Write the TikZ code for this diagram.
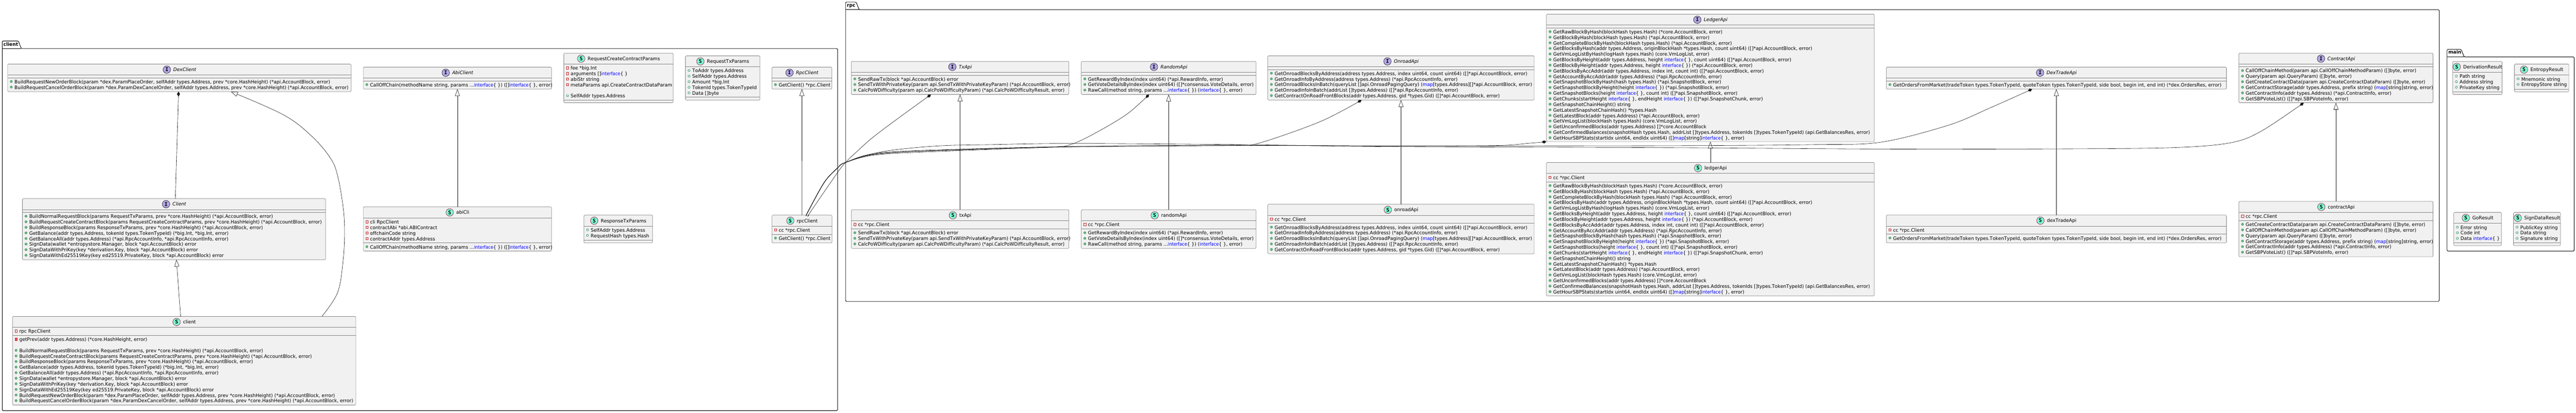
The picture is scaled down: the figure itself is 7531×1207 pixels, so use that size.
\documentclass[tikz,border=0pt]{standalone}
\usepackage{fontspec}
\usetikzlibrary{arrows.meta}
\setmainfont{DejaVu Sans}[Ligatures=CommonOff,Kerning=Off,FakeStretch=0.975]
\newfontfamily\iconfont{DejaVu Sans Mono}[Ligatures=CommonOff]
\definecolor{boxfill}{HTML}{F1F1F1}
\definecolor{boxline}{HTML}{848484}
\definecolor{ink}{HTML}{181818}
\definecolor{kwblue}{HTML}{0000FF}
\definecolor{pubstroke}{HTML}{038048}
\definecolor{pubfill}{HTML}{84BE84}
\definecolor{privstroke}{HTML}{C82930}
\definecolor{privfill}{HTML}{F24D5C}
\definecolor{structfill}{HTML}{7FFFD4}
\definecolor{structline}{HTML}{A80036}
\definecolor{ifacefill}{HTML}{B4A7E5}
\newcommand\kw[1]{\textcolor{kwblue}{#1}}
\newcommand\kwib{\scalebox{0.92}[1]{\kw{interface}}\{ \}}
\newcommand\kwm{\kw{map}}
\newcommand\sqz[2]{\scalebox{#1}[1]{#2}}
\newcounter{rw}
\tikzset{
  classbox/.style={draw=boxline,line width=1pt,fill=boxfill,rounded corners=2.5pt,inner sep=0pt,outer sep=0pt},
  divline/.style={draw=boxline,line width=1pt},
  rowtxt/.style={anchor=base west,inner sep=0pt,outer sep=0pt,font=\fontsize{14}{16}\selectfont,text=black},
  titlei/.style={anchor=base,inner sep=0pt,outer sep=0pt,font=\fontsize{14}{16}\selectfont\itshape},
  titles/.style={anchor=base,inner sep=0pt,outer sep=0pt,font=\fontsize{14}{16}\selectfont},
  iconI/.style={circle,draw=ink,line width=0.9pt,fill=ifacefill,minimum size=22pt,inner sep=0pt,font=\fontsize{15}{16}\selectfont\iconfont\bfseries},
  iconS/.style={circle,draw=structline,line width=0.9pt,fill=structfill,minimum size=22pt,inner sep=0pt,font=\fontsize{15}{16}\selectfont\iconfont\bfseries},
  pubm/.style={draw=pubstroke,fill=pubfill,line width=0.8pt},
  pubf/.style={draw=pubstroke,line width=0.8pt},
  privf/.style={draw=privstroke,line width=0.8pt},
  privm/.style={draw=privstroke,fill=privfill,line width=0.8pt},
  pkg/.style={draw=black,line width=1.4pt,rounded corners=2.5pt},
  pkgtxt/.style={anchor=base west,inner sep=0pt,outer sep=0pt,font=\fontsize{14}{16}\selectfont\bfseries},
  conn/.style={draw=ink,line width=0.9pt},
  genline/.style={conn,-{Triangle[fill=white,length=20pt,width=14pt]}},
  compline/.style={conn,-{Diamond[length=14pt,width=9pt,fill=ink]}},
}
% name, x1, y1, x2, y2, kind (I/S), divider 1, divider 2
\newcommand\umlbox[8]{%
  \pgfmathsetmacro\bx{(#2+#4)/2}\pgfmathsetmacro\by{(#3+#5)/2}%
  \pgfmathsetmacro\bw{#4-#2}\pgfmathsetmacro\bh{#5-#3}%
  \pgfmathsetmacro\ty{#3+21.4}\pgfmathsetmacro\iy{#3+16.2}\pgfmathsetmacro\tx{\bx+15.5}%
  \node[classbox,minimum width=\bw pt,minimum height=\bh pt] (#1) at (\bx,\by) {};
  \ifx#6I\node[titlei] (#1-title) at (\tx,\ty) {#1};\else\node[titles] (#1-title) at (\tx,\ty) {#1};\fi
  \coordinate (#1-ic) at (#1-title.west |- 0,\iy);
  \node[icon#6,xshift=-19pt] (#1-icon) at (#1-ic) {#6};
  \draw[divline] (#1.west |- 0,#7) -- (#1.east |- 0,#7);
  \draw[divline] (#1.west |- 0,#8) -- (#1.east |- 0,#8);
  \gdef\rowbase{#2}%
}
% start of a compartment: y of the divider above it
\newcommand\rowsat[1]{\pgfmathsetmacro\rowy{#1+17}}
\newcommand\nextrow{\pgfmathsetmacro\rowy{\rowy+16.33}}
\newcommand\rowtext[1]{\stepcounter{rw}\pgfmathsetmacro\rtx{\rowbase+20}%
  \node[rowtxt] (row\arabic{rw}) at (\rtx,\rowy) {#1};}
\newcommand\rowmark{\pgfmathsetmacro\rmx{\rowbase+10.5}\pgfmathsetmacro\rmy{\rowy-6}}
\newcommand\MM[1]{\rowmark\draw[pubm] (\rmx,\rmy) circle (3.2pt);\rowtext{#1}\nextrow}
\newcommand\FF[1]{\rowmark\draw[pubf] (\rmx,\rmy) circle (3.2pt);\rowtext{#1}\nextrow}
\newcommand\PF[1]{\rowmark\draw[privf] (\rmx-3.2,\rmy-3.4) rectangle (\rmx+3.2,\rmy+3.4);\rowtext{#1}\nextrow}
\newcommand\PM[1]{\rowmark\draw[privm] (\rmx-3.2,\rmy-3.4) rectangle (\rmx+3.2,\rmy+3.4);\rowtext{#1}\nextrow}
\newcommand\BL{\nextrow}
\begin{document}
\begin{tikzpicture}[x=1pt,y=-1pt]
\useasboundingbox (0,0) rectangle (7531,1207);
% packages
\draw[pkg] (6.5,142) -- (6.5,120) -- (54,120) -- (62,142) -- (2448.8,142) -- (2448.8,1201) -- (6.5,1201) -- cycle;
\draw[pkg] (6.5,142) -- (62,142);
\node[pkgtxt] (pkgclient) at (10,135) {client};
\draw[pkg] (2472,28.5) -- (2472,6) -- (2503,6) -- (2511.7,28.5) -- (7131,28.5) -- (7131,881.5) -- (2472,881.5) -- cycle;
\draw[pkg] (2472,28.5) -- (2511.7,28.5);
\node[pkgtxt] (pkgrpc) at (2475.9,21) {rpc};
\draw[pkg] (7154,166.5) -- (7154,144.3) -- (7195,144.3) -- (7204,166.5) -- (7525.6,166.5) -- (7525.6,734.3) -- (7154,734.3) -- cycle;
\draw[pkg] (7154,166.5) -- (7204,166.5);
\node[pkgtxt] (pkgmain) at (7157.8,158) {main};

% client package
\umlbox{DexClient}{22.4}{187.4}{1026.6}{268.1}{I}{219.5}{227.4}
\rowsat{227.4}
\MM{BuildRequestNewOrderBlock(param *dex.ParamPlaceOrder, selfAddr types.Address, prev *core.HashHeight) (*api.AccountBlock, error)}
\MM{BuildRequestCancelOrderBlock(param *dex.ParamDexCancelOrder, selfAddr types.Address, prev *core.HashHeight) (*api.AccountBlock, error)}

\umlbox{Client}{65.5}{581}{952}{759.5}{I}{613.5}{621.3}
\rowsat{621.3}
\MM{BuildNormalRequestBlock(params RequestTxParams, prev *core.HashHeight) (*api.AccountBlock, error)}
\MM{BuildRequestCreateContractBlock(params RequestCreateContractParams, prev *core.HashHeight) (*api.AccountBlock, error)}
\MM{BuildResponseBlock(params ResponseTxParams, prev *core.HashHeight) (*api.AccountBlock, error)}
\MM{GetBalance(addr types.Address, tokenId types.TokenTypeId) (*big.Int, *big.Int, error)}
\MM{GetBalanceAll(addr types.Address) (*api.RpcAccountInfo, *api.RpcAccountInfo, error)}
\MM{SignData(wallet *entropystore.Manager, block *api.AccountBlock) error}
\MM{SignDataWithPriKey(key *derivation.Key, block *api.AccountBlock) error}
\MM{SignDataWithEd25519Key(key ed25519.PrivateKey, block *api.AccountBlock) error}

\umlbox{client}{36.5}{925.6}{1040.6}{1184.6}{S}{957.3}{981}
\rowsat{957.3}
\PF{rpc RpcClient}
\rowsat{981}
\PM{getPrev(addr types.Address) (*core.HashHeight, error)}
\BL
\MM{BuildNormalRequestBlock(params RequestTxParams, prev *core.HashHeight) (*api.AccountBlock, error)}
\MM{BuildRequestCreateContractBlock(params RequestCreateContractParams, prev *core.HashHeight) (*api.AccountBlock, error)}
\MM{BuildResponseBlock(params ResponseTxParams, prev *core.HashHeight) (*api.AccountBlock, error)}
\MM{GetBalance(addr types.Address, tokenId types.TokenTypeId) (*big.Int, *big.Int, error)}
\MM{GetBalanceAll(addr types.Address) (*api.RpcAccountInfo, *api.RpcAccountInfo, error)}
\MM{SignData(wallet *entropystore.Manager, block *api.AccountBlock) error}
\MM{SignDataWithPriKey(key *derivation.Key, block *api.AccountBlock) error}
\MM{SignDataWithEd25519Key(key ed25519.PrivateKey, block *api.AccountBlock) error}
\MM{BuildRequestNewOrderBlock(param *dex.ParamPlaceOrder, selfAddr types.Address, prev *core.HashHeight) (*api.AccountBlock, error)}
\MM{BuildRequestCancelOrderBlock(param *dex.ParamDexCancelOrder, selfAddr types.Address, prev *core.HashHeight) (*api.AccountBlock, error)}

\umlbox{AbiClient}{1062}{196.5}{1612.5}{260.6}{I}{228.5}{236.5}
\rowsat{236.5}
\MM{CallOffChain(methodName string, params ...\kwib) ([]\kwib, error)}

\umlbox{abiCli}{1062}{605}{1612.5}{734.3}{S}{637.5}{710}
\rowsat{637.5}
\PF{cli RpcClient}
\PF{contractAbi *abi.ABIContract}
\PF{offchainCode string}
\PF{contractAddr types.Address}
\rowsat{710.5}
\MM{CallOffChain(methodName string, params ...\kwib) ([]\kwib, error)}

\umlbox{RequestCreateContractParams}{1648.4}{155.4}{1968}{300.5}{S}{187.4}{292.2}
\rowsat{187.4}
\PF{fee *big.Int}
\PF{arguments []\kwib}
\PF{abiStr string}
\PF{metaParams api.CreateContractDataParam}
\BL
\FF{SelfAddr types.Address}

\umlbox{RequestTxParams}{2003.9}{163.3}{2221.6}{292.6}{S}{195.3}{284.3}
\rowsat{195.3}
\FF{ToAddr types.Address}
\FF{SelfAddr types.Address}
\FF{Amount *big.Int}
\FF{TokenId types.TokenTypeId}
\FF{Data []byte}

\umlbox{RpcClient}{2256.6}{196.5}{2432}{260.6}{I}{228.5}{236.5}
\rowsat{236.5}
\MM{GetClient() *rpc.Client}

\umlbox{ResponseTxParams}{1707}{629.3}{1908}{710.3}{S}{661.3}{702.3}
\rowsat{661.3}
\FF{SelfAddr types.Address}
\FF{RequestHash types.Hash}

\umlbox{rpcClient}{2256.7}{629.3}{2432.4}{710.3}{S}{661.3}{685.3}
\rowsat{661.3}
\PF{cc *rpc.Client}
\rowsat{685.3}
\MM{GetClient() *rpc.Client}

% rpc package
\umlbox{TxApi}{2488.6}{179.5}{3125}{276.5}{I}{211.4}{219.7}
\rowsat{219.7}
\MM{SendRawTx(block *api.AccountBlock) error}
\MM{SendTxWithPrivateKey(param api.SendTxWithPrivateKeyParam) (*api.AccountBlock, error)}
\MM{\sqz{0.971}{CalcPoWDifficulty(param api.CalcPoWDifficultyParam) (*api.CalcPoWDifficultyResult, error)}}

\umlbox{txApi}{2488.6}{613.5}{3125}{726.6}{S}{645.3}{669.7}
\rowsat{645.3}
\PF{cc *rpc.Client}
\rowsat{669.7}
\MM{SendRawTx(block *api.AccountBlock) error}
\MM{SendTxWithPrivateKey(param api.SendTxWithPrivateKeyParam) (*api.AccountBlock, error)}
\MM{\sqz{0.971}{CalcPoWDifficulty(param api.CalcPoWDifficultyParam) (*api.CalcPoWDifficultyResult, error)}}

\umlbox{RandomApi}{3161}{179.5}{3672}{276.5}{I}{211.4}{219.7}
\rowsat{219.7}
\MM{GetRewardByIndex(index uint64) (*api.RewardInfo, error)}
\MM{GetVoteDetailsByIndex(index uint64) ([]*consensus.VoteDetails, error)}
\MM{RawCall(method string, params ...\kwib) (\kwib, error)}

\umlbox{randomApi}{3161}{613.5}{3672}{726.6}{S}{645.3}{669.7}
\rowsat{645.3}
\PF{cc *rpc.Client}
\rowsat{669.7}
\MM{GetRewardByIndex(index uint64) (*api.RewardInfo, error)}
\MM{GetVoteDetailsByIndex(index uint64) ([]*consensus.VoteDetails, error)}
\MM{RawCall(method string, params ...\kwib) (\kwib, error)}

\umlbox{OnroadApi}{3706.4}{163.3}{4485.2}{292.6}{I}{195.3}{203.2}
\rowsat{203.2}
\MM{GetOnroadBlocksByAddress(address types.Address, index uint64, count uint64) ([]*api.AccountBlock, error)}
\MM{GetOnroadInfoByAddress(address types.Address) (*api.RpcAccountInfo, error)}
\MM{GetOnroadBlocksInBatch(queryList []api.OnroadPagingQuery) (\kwm[types.Address][]*api.AccountBlock, error)}
\MM{GetOnroadInfoInBatch(addrList []types.Address) ([]*api.RpcAccountInfo, error)}
\MM{GetContractOnRoadFrontBlocks(addr types.Address, gid *types.Gid) ([]*api.AccountBlock, error)}

\umlbox{onroadApi}{3706.4}{597.5}{4485.2}{742.5}{S}{629.4}{653.4}
\rowsat{629.4}
\PF{cc *rpc.Client}
\rowsat{653.4}
\MM{GetOnroadBlocksByAddress(address types.Address, index uint64, count uint64) ([]*api.AccountBlock, error)}
\MM{GetOnroadInfoByAddress(address types.Address) (*api.RpcAccountInfo, error)}
\MM{GetOnroadBlocksInBatch(queryList []api.OnroadPagingQuery) (\kwm[types.Address][]*api.AccountBlock, error)}
\MM{GetOnroadInfoInBatch(addrList []types.Address) ([]*api.RpcAccountInfo, error)}
\MM{GetContractOnRoadFrontBlocks(addr types.Address, gid *types.Gid) ([]*api.AccountBlock, error)}

\newcommand\ledgerrows{%
\MM{GetRawBlockByHash(blockHash types.Hash) (*core.AccountBlock, error)}
\MM{GetBlockByHash(blockHash types.Hash) (*api.AccountBlock, error)}
\MM{GetCompleteBlockByHash(blockHash types.Hash) (*api.AccountBlock, error)}
\MM{GetBlocksByHash(addr types.Address, originBlockHash *types.Hash, count uint64) ([]*api.AccountBlock, error)}
\MM{GetVmLogListByHash(logHash types.Hash) (core.VmLogList, error)}
\MM{GetBlocksByHeight(addr types.Address, height \kwib, count uint64) ([]*api.AccountBlock, error)}
\MM{GetBlockByHeight(addr types.Address, height \kwib) (*api.AccountBlock, error)}
\MM{GetBlocksByAccAddr(addr types.Address, index int, count int) ([]*api.AccountBlock, error)}
\MM{GetAccountByAccAddr(addr types.Address) (*api.RpcAccountInfo, error)}
\MM{GetSnapshotBlockByHash(hash types.Hash) (*api.SnapshotBlock, error)}
\MM{GetSnapshotBlockByHeight(height \kwib) (*api.SnapshotBlock, error)}
\MM{GetSnapshotBlocks(height \kwib, count int) ([]*api.SnapshotBlock, error)}
\MM{GetChunks(startHeight \kwib, endHeight \kwib) ([]*api.SnapshotChunk, error)}
\MM{GetSnapshotChainHeight() string}
\MM{GetLatestSnapshotChainHash() *types.Hash}
\MM{GetLatestBlock(addr types.Address) (*api.AccountBlock, error)}
\MM{GetVmLogList(blockHash types.Hash) (core.VmLogList, error)}
\MM{GetUnconfirmedBlocks(addr types.Address) []*core.AccountBlock}
\MM{GetConfirmedBalances(snapshotHash types.Hash, addrList []types.Address, tokenIds []types.TokenTypeId) (api.GetBalancesRes, error)}
\MM{GetHourSBPStats(startIdx uint64, endIdx uint64) ([]\kwm[string]\kwib, error)}
}
\umlbox{LedgerApi}{4521}{41.5}{5479.6}{414.4}{I}{73.5}{81.5}
\rowsat{81.5}
\ledgerrows

\umlbox{ledgerApi}{4521}{475.3}{5479.6}{865.6}{S}{507.3}{531.8}
\rowsat{507.3}
\PF{cc *rpc.Client}
\rowsat{531.8}
\ledgerrows

\umlbox{DexTradeApi}{5514.6}{196.5}{6509}{260.6}{I}{228.5}{236.5}
\rowsat{236.5}
\MM{GetOrdersFromMarket(tradeToken types.TokenTypeId, quoteToken types.TokenTypeId, side bool, begin int, end int) (*dex.OrdersRes, error)}

\umlbox{dexTradeApi}{5514.6}{629}{6509}{710.3}{S}{661}{685}
\rowsat{661}
\PF{cc *rpc.Client}
\rowsat{685}
\MM{GetOrdersFromMarket(tradeToken types.TokenTypeId, quoteToken types.TokenTypeId, side bool, begin int, end int) (*dex.OrdersRes, error)}

\umlbox{ContractApi}{6545.4}{155.4}{7113}{300.5}{I}{187.4}{195.3}
\rowsat{195.3}
\MM{CallOffChainMethod(param api.CallOffChainMethodParam) ([]byte, error)}
\MM{Query(param api.QueryParam) ([]byte, error)}
\MM{GetCreateContractData(param api.CreateContractDataParam) ([]byte, error)}
\MM{GetContractStorage(addr types.Address, prefix string) (\kwm[string]string, error)}
\MM{GetContractInfo(addr types.Address) (*api.ContractInfo, error)}
\MM{GetSBPVoteList() ([]*api.SBPVoteInfo, error)}

\umlbox{contractApi}{6545.4}{589}{7113}{751.4}{S}{621.3}{645}
\rowsat{621.3}
\PF{cc *rpc.Client}
\rowsat{645}
\MM{GetCreateContractData(param api.CreateContractDataParam) ([]byte, error)}
\MM{CallOffChainMethod(param api.CallOffChainMethodParam) ([]byte, error)}
\MM{Query(param api.QueryParam) ([]byte, error)}
\MM{GetContractStorage(addr types.Address, prefix string) (\kwm[string]string, error)}
\MM{GetContractInfo(addr types.Address) (*api.ContractInfo, error)}
\MM{GetSBPVoteList() ([]*api.SBPVoteInfo, error)}

% main package
\umlbox{DerivationResult}{7170.6}{179.5}{7314.7}{276.4}{S}{211.5}{268.5}
\rowsat{211.5}
\FF{Path string}
\FF{Address string}
\FF{PrivateKey string}

\umlbox{EntropyResult}{7351}{187.4}{7510}{268.5}{S}{219.5}{260.6}
\rowsat{219.5}
\FF{Mnemonic string}
\FF{EntropyStore string}

\umlbox{GoResult}{7173.5}{621.3}{7312.8}{718.5}{S}{653.4}{710.3}
\rowsat{653.4}
\FF{Error string}
\FF{Code int}
\FF{Data \kwib}

\umlbox{SignDataResult}{7348}{621.3}{7485.6}{718.5}{S}{653.4}{710.3}
\rowsat{653.4}
\FF{PublicKey string}
\FF{Data string}
\FF{Signature string}

% straight connectors
\draw[genline] (abiCli.north) -- (AbiClient.south);
\draw[genline] (rpcClient.north) -- (RpcClient.south);
\draw[genline] (txApi.north) -- (TxApi.south);
\draw[genline] (randomApi.north) -- (RandomApi.south);
\draw[genline] (onroadApi.north) -- (OnroadApi.south);
\draw[genline] (ledgerApi.north) -- (LedgerApi.south);
\draw[genline] (dexTradeApi.north) -- (DexTradeApi.south);
\draw[genline] (contractApi.north) -- (ContractApi.south);
\draw[genline] ([xshift=-10.5pt]client.north) -- ([xshift=7pt]Client.south);
\draw[compline] ([xshift=3.8pt]Client.north) -- ([xshift=-2.5pt]DexClient.south);

% curved connectors
\coordinate (g1) at ([xshift=402.5pt]client.north);
\coordinate (g2) at ([xshift=150.5pt]DexClient.south);
\draw[genline] plot[smooth,tension=0.6] coordinates {(g1) (987,855.5) (1003,762.6) (1007.5,677) (1003,605) (987,514) (966,462.6) (912,399) (829,336) (g2)};

\coordinate (rb) at ([xshift=13.2pt]rpcClient.north);
\coordinate (rt) at ([xshift=20pt]rpcClient.north);
\coordinate (tT) at ([xshift=-85.2pt]TxApi.south);
\coordinate (tR) at ([xshift=-57.1pt]RandomApi.south);
\coordinate (tO) at ([xshift=-115.2pt]OnroadApi.south);
\coordinate (tD) at ([xshift=-70.8pt]DexTradeApi.south);
\coordinate (tC) at ([xshift=-94.2pt]ContractApi.south);
\draw[compline] plot[smooth,tension=0.6] coordinates {(rt) (2369.3,620) (2448.3,505) (2472.3,475) (2500,448) (2566.7,390) (tT)};
\draw[compline] plot[smooth,tension=0.55] coordinates {(rb) (2361.7,620) (2410,533) (2448.3,491.7) (2472.3,475) (2570,449) (2820,438) (3074,430.3) (3138,420) (3217,381) (3297,332) (tR)};
\draw[compline] plot[smooth,tension=0.55] coordinates {(rb) (2361.7,620) (2410,533) (2448.3,491.7) (2472.3,475) (2570,447) (2820,436) (3138,428.5) (3500,425) (3616,424) (3680,419) (3859,356) (tO)};
\draw[compline] plot[smooth,tension=0.55] coordinates {(rb) (2361.7,620) (2410,533) (2448.3,491.7) (2472.3,475) (2570,450) (2820,437) (3138,429) (3700,425.5) (4098,427) (4378,425.5) (4470,419) (LedgerApi.south west)};
\draw[compline] plot[smooth,tension=0.55] coordinates {(rb) (2361.7,620) (2410,533) (2448.3,491.7) (2472.3,475) (2580,443.6) (2739,427) (2899,423) (3138,419.6) (3616,423) (3859,426) (4098,427) (4900,426) (5298.6,423) (5498,416) (5697,366) (5817,316) (tD)};
\draw[compline] plot[smooth,tension=0.55] coordinates {(rb) (2361.7,620) (2410,533) (2448.3,491.7) (2472.3,475) (2570,452) (2820,440) (3138,429.5) (3700,425.5) (4098,429) (4900,432) (5538,436) (6100,435) (6374,431) (6524,417) (6611,383.5) (tC)};
\end{tikzpicture}
\end{document}
